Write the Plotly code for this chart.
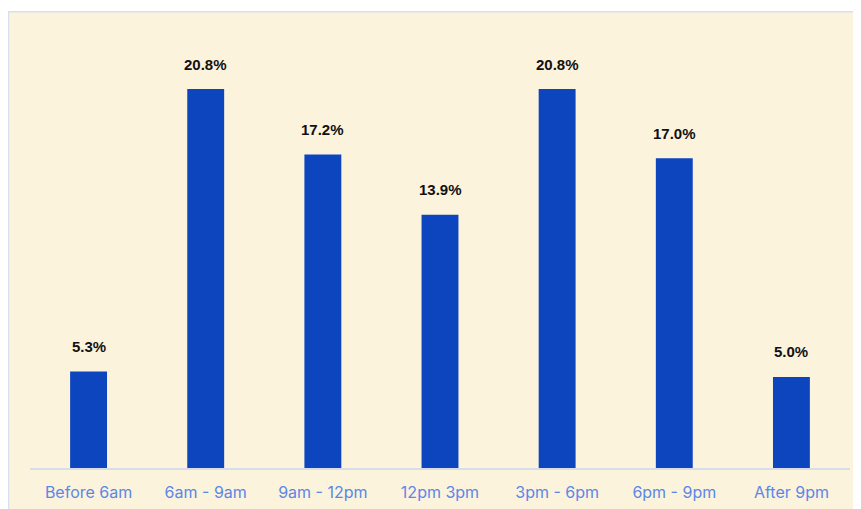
import plotly.graph_objects as go

categories = ["Before 6am", "6am - 9am", "9am - 12pm", "12pm 3pm", "3pm - 6pm", "6pm - 9pm", "After 9pm"]
values = [5.3, 20.8, 17.2, 13.9, 20.8, 17.0, 5.0]
labels = ["5.3%", "20.8%", "17.2%", "13.9%", "20.8%", "17.0%", "5.0%"]

W, H = 861, 509
L, R, T, B = 22, 19, 32, 49
pw, ph = W - L - R, H - T - B

def px_to_xpaper(px):
    return (px - L) / pw

def py_to_ypaper(py):
    return (H - B - py) / ph

fig = go.Figure()
fig.add_trace(go.Bar(
    x=categories, y=values,
    marker=dict(color="#0D45BF", line=dict(width=0)),
    hoverinfo="skip",
))

for c, v, t in zip(categories, values, labels):
    fig.add_annotation(x=c, y=v, text="<b>" + t + "</b>", showarrow=False,
                       yanchor="middle", yshift=25,
                       font=dict(family="Liberation Sans, Arial, sans-serif", size=15, color="#111111"))

fig.add_shape(type="rect", xref="paper", yref="paper",
              x0=px_to_xpaper(0.5), x1=px_to_xpaper(900),
              y0=py_to_ypaper(560), y1=py_to_ypaper(3.7),
              fillcolor="#FCF3DD", line=dict(color="#D8E0EE", width=1.5), layer="below")

fig.update_layout(
    width=W, height=H,
    margin=dict(l=L, r=R, t=T, b=B),
    paper_bgcolor="white",
    plot_bgcolor="rgba(0,0,0,0)",
    bargap=0.685,
    showlegend=False,
    xaxis=dict(showline=True, linecolor="#D6DEEE", linewidth=1.5,
               ticks="outside", ticklen=9, tickcolor="rgba(0,0,0,0)",
               tickfont=dict(family="Inter, Noto Sans, sans-serif", size=16, color="#5B87E6"),
               showgrid=False, fixedrange=True),
    yaxis=dict(range=[0, 23.49], visible=False, showgrid=False, zeroline=False, fixedrange=True),
)

fig.write_html("out.html")
